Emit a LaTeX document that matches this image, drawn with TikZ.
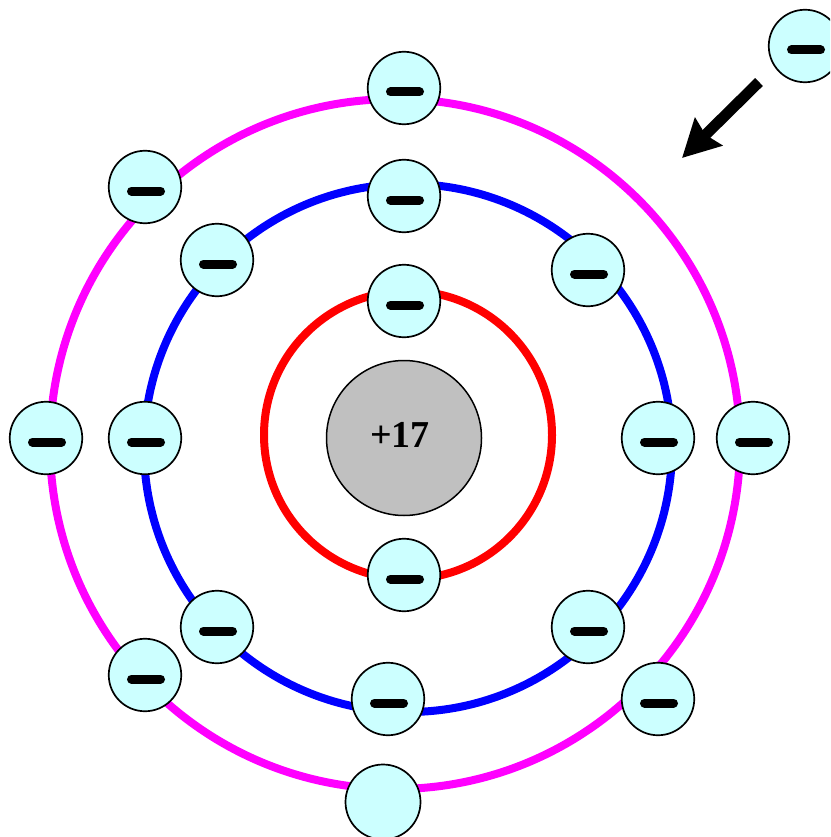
\documentclass[tikz,border=0pt]{standalone}
\usepackage{fontspec}
\setmainfont{Liberation Serif}
\usetikzlibrary{arrows.meta,calc}
\definecolor{elecfill}{RGB}{204,255,255}
\definecolor{orbmag}{RGB}{255,0,255}
\definecolor{orbblue}{RGB}{0,0,255}
\definecolor{orbred}{RGB}{255,0,0}
\definecolor{nucfill}{RGB}{192,192,192}
\tikzset{
  orbit/.style={draw=#1,line width=8pt,fill=none},
  electron/.style={circle,draw=black,line width=1.7pt,fill=elecfill,minimum size=72.5pt,inner sep=0pt,outer sep=0pt},
  bigelectron/.style={electron,minimum size=75pt},
  nucleus/.style={circle,draw=black,line width=1.5pt,fill=nucfill,minimum size=155pt,inner sep=0pt},
  minusbar/.style={line width=9pt,line cap=round,black},
  bigarrow/.style={line width=11pt,-{Stealth[length=37pt,width=38pt,inset=4pt]}}
}
\newcommand{\elec}[3]{%
  \node[electron] (#1) at (#2,#3) {};
  \draw[minusbar] ($(#1.center)+(-13.5,4)$) -- ($(#1.center)+(15.5,4)$);
}
\begin{document}
\begin{tikzpicture}[x=1pt,y=-1pt]
\clip (0,0) rectangle (830,837);
\fill[white] (0,0) rectangle (830,837);
% orbits
\draw[orbit=orbred] (408,435) circle[radius=144];
\draw[orbit=orbblue] (408,448) circle[radius=264];
\draw[orbit=orbmag] (395,444) circle[radius=345];
% nucleus
\node[nucleus] (nuc) at (404,438) {};
\node[font=\bfseries\fontsize{38}{38}\selectfont] (charge) at (400,435) {+17};
% electrons
\elec{e1}{404}{88}
\elec{e2}{145}{187}
\elec{e3}{404}{196}
\elec{e4}{217}{260}
\elec{e5}{588}{270}
\elec{e6}{404}{301}
\elec{e7}{46}{438}
\elec{e8}{145}{438}
\elec{e9}{658}{438}
\elec{e10}{753}{438}
\elec{e11}{404}{575}
\elec{e12}{217}{627}
\elec{e13}{588}{627}
\elec{e14}{145}{675}
\elec{e15}{658}{699}
\elec{e16}{388}{699}
\elec{e17}{805}{46}
\node[bigelectron] (e18) at (383,802) {};
% arrow
\coordinate (astart) at (759,82);
\coordinate (aend) at (682,158);
\draw[bigarrow] (astart) -- (aend);
\end{tikzpicture}
\end{document}
